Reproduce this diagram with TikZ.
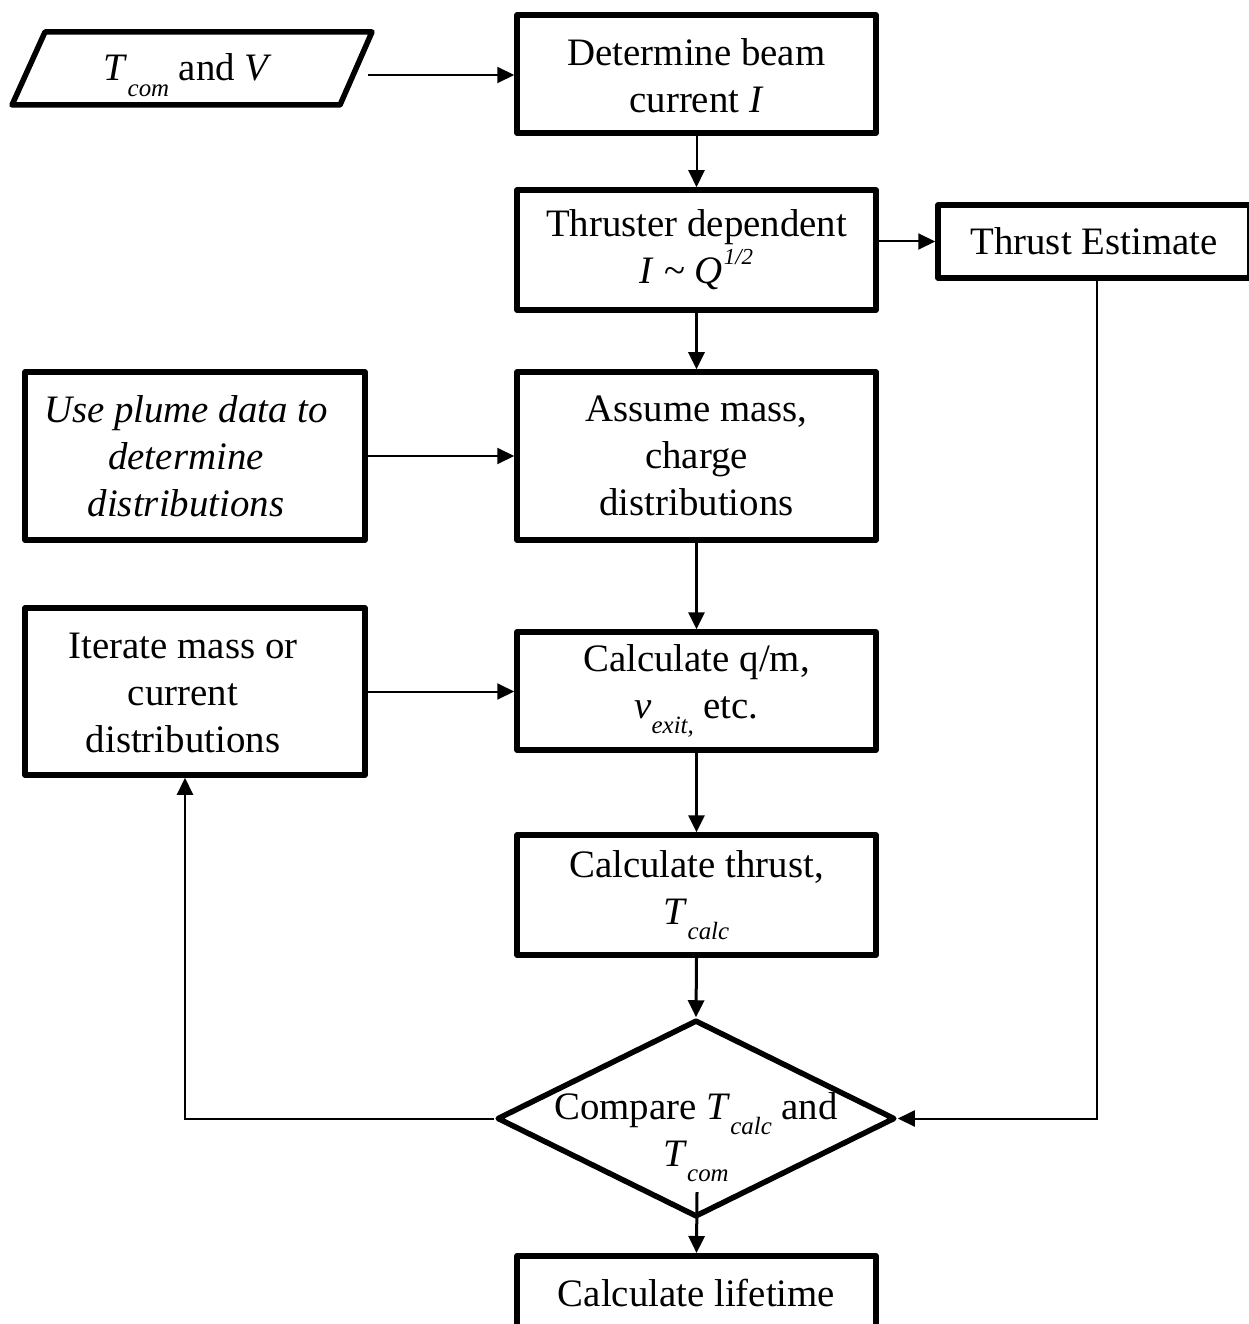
\documentclass[tikz,border=0pt]{standalone}
\usepackage{fontspec}
\setmainfont{Liberation Serif}
\usetikzlibrary{arrows.meta,shapes.geometric}
\newcommand{\lsub}[1]{\raisebox{-0.4em}{\fontsize{25}{25}\selectfont\itshape #1}}
\newcommand{\lsup}[1]{\raisebox{0.5em}{\fontsize{23}{23}\selectfont\itshape #1}}
\begin{document}
\begin{tikzpicture}[x=1bp,y=-1bp,
  txt/.style={font=\fontsize{39}{47}\selectfont, align=center, inner sep=0pt},
  box/.style={txt, draw, line width=5.5bp, line join=round, rectangle, minimum width=359bp},
  arr/.style={-{Triangle[length=17bp,width=16bp]}, line width=2bp},
  arrb/.style={arr, line width=3bp}]
\useasboundingbox (0,0) rectangle (1248,1324);
\fill[white] (0,0) rectangle (1248,1324);
% input parallelogram
\draw[line width=5.5bp, line join=round] (45,32) -- (372,32) -- (340,105) -- (12,105) -- cycle;
\node[txt] (in) at (188,75) {\textit{T}\lsub{com} and \textit{V}};
\coordinate (inR) at (368,75);
% boxes
\node[box, minimum height=118bp] (b1) at (696.5,74) {\rule{0pt}{30bp}Determine beam\\current \textit{I}};
\node[box, minimum height=120bp] (b2) at (696.5,250) {Thruster dependent\\\textit{I} \textasciitilde{} \textit{Q}\kern1bp\lsup{1/2}};
\node[box, minimum width=312bp, minimum height=73bp] (te) at (1094,241.5) {Thrust Estimate};
\node[box, minimum height=168bp] (b3) at (696.5,456) {Assume mass,\\charge\\distributions};
\node[box, minimum width=340bp, minimum height=168bp] (pl) at (195,456) {};
\node[txt] (plt) at (186,456) {\itshape Use plume data to\\\itshape determine\\\itshape distributions};
\node[box, minimum height=118bp] (b4) at (696.5,691) {Calculate q/m,\\\textit{v}\lsub{exit,} etc.};
\node[box, minimum width=340bp, minimum height=167bp] (it) at (195,691.5) {};
\node[txt] (itt) at (183,693) {Iterate mass or\\current\\distributions};
\node[box, minimum height=120bp] (b5) at (696.5,895) {Calculate thrust,\\\textit{T}\lsub{calc}};
\node[draw, diamond, aspect=2, line width=5.5bp, line join=round, minimum width=398bp, minimum height=197bp, inner sep=0pt] (dia) at (696,1118.5) {};
\node[txt] (dt) at (696,1137) {Compare \textit{T}\lsub{calc} and\\\textit{T}\lsub{com}};
\coordinate (dout) at (697,1192);
\node[box, minimum height=74bp, anchor=north] (lf) at (696.5,1253) {Calculate lifetime};
% connectors
\draw[arr] (inR) -- (inR -| b1.west);
\draw[arr] (b1.south) -- (b2.north);
\draw[arr] (b2.east |- te.west) -- (te.west);
\draw[arrb] (b2.south) -- (b3.north);
\draw[arr] (pl.east) -- (pl.east -| b3.west);
\draw[arrb] (b3.south) -- (b4.north);
\draw[arr] (it.east) -- (it.east -| b4.west);
\draw[arrb] (b4.south) -- (b5.north);
\draw[arrb] (b5.south) -- (dia.north);
\draw[arr] ([xshift=3bp]te.south) |- (dia.east);
\draw[arr] (dia.west) -| ([xshift=-10bp]it.south);
\draw[arrb] (dout) -- (lf.north);
\end{tikzpicture}
\end{document}
